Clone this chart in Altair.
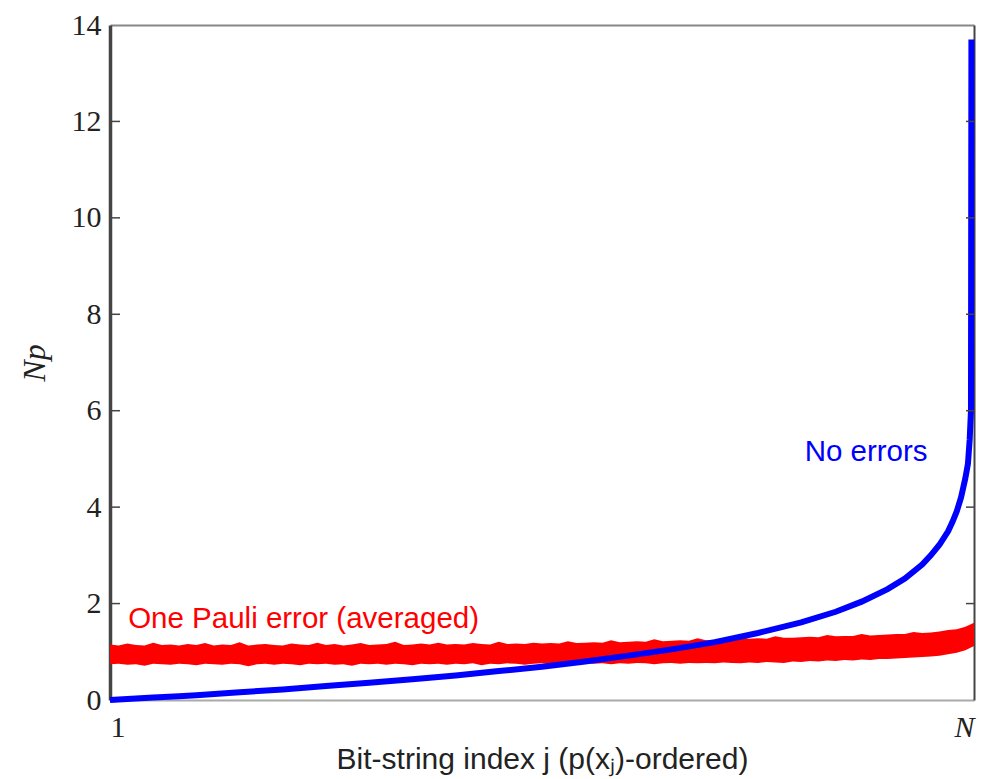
import altair as alt
import pandas as pd

# Sorted output probabilities (scaled by N) for the ideal circuit
blue_frac = [0, 0.02, 0.05, 0.08, 0.10, 0.15, 0.20, 0.25, 0.30, 0.35, 0.40, 0.45,
             0.50, 0.55, 0.60, 0.65, 0.70, 0.75, 0.80, 0.84, 0.87, 0.90, 0.92,
             0.94, 0.95, 0.96, 0.97, 0.975, 0.98, 0.985, 0.99, 0.993, 0.995,
             0.9965, 0.997]
blue_np = [0, 0.02, 0.05, 0.08, 0.10, 0.16, 0.22, 0.29, 0.36, 0.43, 0.51, 0.60,
           0.69, 0.80, 0.92, 1.05, 1.20, 1.39, 1.61, 1.83, 2.04, 2.30, 2.52,
           2.81, 3.00, 3.22, 3.50, 3.69, 3.91, 4.20, 4.60, 4.90, 5.40,
           6.00, 13.70]

# Envelope of the noisy curve with one Pauli error (averaged), sampled every 1% of N
band_hi = [1.15, 1.13, 1.17, 1.14, 1.13, 1.19, 1.14, 1.15, 1.13, 1.16,
           1.14, 1.18, 1.13, 1.15, 1.14, 1.20, 1.13, 1.15, 1.16, 1.14,
           1.13, 1.17, 1.15, 1.14, 1.19, 1.14, 1.16, 1.13, 1.15, 1.18,
           1.14, 1.15, 1.16, 1.21, 1.14, 1.15, 1.17, 1.15, 1.19, 1.15,
           1.16, 1.15, 1.18, 1.16, 1.15, 1.21, 1.16, 1.17, 1.16, 1.19,
           1.17, 1.18, 1.17, 1.22, 1.18, 1.19, 1.20, 1.19, 1.24, 1.20,
           1.21, 1.22, 1.21, 1.26, 1.22, 1.23, 1.24, 1.23, 1.28, 1.24,
           1.25, 1.26, 1.25, 1.30, 1.27, 1.28, 1.27, 1.32, 1.29, 1.29,
           1.30, 1.31, 1.30, 1.35, 1.32, 1.33, 1.33, 1.37, 1.34, 1.35,
           1.36, 1.37, 1.37, 1.41, 1.39, 1.40, 1.42, 1.45, 1.47, 1.52,
           1.60]
band_lo = [0.74, 0.75, 0.73, 0.74, 0.71, 0.75, 0.74, 0.73, 0.75, 0.74,
           0.72, 0.75, 0.74, 0.73, 0.75, 0.74, 0.70, 0.74, 0.75, 0.73,
           0.75, 0.74, 0.72, 0.75, 0.74, 0.75, 0.73, 0.74, 0.71, 0.75,
           0.74, 0.75, 0.73, 0.75, 0.74, 0.72, 0.75, 0.74, 0.75, 0.73,
           0.75, 0.74, 0.76, 0.72, 0.75, 0.74, 0.76, 0.75, 0.73, 0.75,
           0.76, 0.74, 0.75, 0.76, 0.73, 0.76, 0.75, 0.76, 0.74, 0.76,
           0.75, 0.77, 0.76, 0.74, 0.76, 0.77, 0.75, 0.77, 0.76, 0.77,
           0.76, 0.78, 0.77, 0.76, 0.78, 0.77, 0.79, 0.78, 0.77, 0.80,
           0.79, 0.81, 0.80, 0.82, 0.81, 0.83, 0.82, 0.84, 0.83, 0.85,
           0.85, 0.86, 0.87, 0.88, 0.89, 0.90, 0.92, 0.95, 0.98, 1.03,
           1.12]
band_frac = [i / 100 for i in range(len(band_hi))]

y_ticks = [0, 2, 4, 6, 8, 10, 12, 14]
inner_ticks = [2, 4, 6, 8, 10, 12]

labels = pd.DataFrame({
    "f": [0.021, 0.804],
    "y": [1.5, 4.96],
    "text": ["One Pauli error (averaged)", "No errors"],
    "color": ["#ff0000", "#0000ff"],
})

blue_df = pd.DataFrame({"f": blue_frac, "np": blue_np})
band_df = pd.DataFrame({"f": band_frac, "lo": band_lo, "hi": band_hi})
tick_df = pd.DataFrame({"v": inner_ticks})

W, H = 864, 675
xs = alt.Scale(domain=[0, 1], nice=False, zero=False)
ys = alt.Scale(domain=[0, 14], nice=False, zero=False)

SERIF = "Liberation Serif"
SANS = "Liberation Sans"

x_bottom = alt.Axis(
    values=[0, 1], labelExpr="datum.value == 0 ? '1' : 'N'",
    labelFontStyle=alt.condition("datum.value == 1", alt.value("italic"), alt.value("normal")),
    labelFont=SERIF, labelFontSize=30, labelColor="#222", labelPadding=12,
    ticks=False, grid=False, domainColor="#aaaaaa", domainWidth=2,
    title="Bit-string index j (p(xⱼ)-ordered)", titleFont=SANS, titleFontSize=30,
    titleFontWeight="normal", titleColor="#222", titlePadding=2,
)
y_left = alt.Axis(
    values=y_ticks, labelFont=SERIF, labelFontSize=30, labelColor="#222",
    labelPadding=9, ticks=False, grid=False, domainColor="#444444", domainWidth=3.5,
    title="Np", titleFont=SERIF, titleFontStyle="italic", titleFontSize=32,
    titleFontWeight="normal", titleColor="#222", titlePadding=20,
)
x_top = alt.Axis(orient="top", labels=False, ticks=False, grid=False,
                 domainColor="#888888", domainWidth=2, title=None)
y_right = alt.Axis(orient="right", labels=False, ticks=False, grid=False,
                   domainColor="#444444", domainWidth=2, title=None)

band = alt.Chart(band_df).mark_area(color="#ff0000", opacity=1).encode(
    x=alt.X("f:Q", scale=xs, axis=x_bottom),
    y=alt.Y("lo:Q", scale=ys, axis=y_left),
    y2="hi:Q",
)

blue = alt.Chart(blue_df).mark_line(color="#0000ff", strokeWidth=6).encode(
    x=alt.X("f:Q", scale=xs, axis=x_top),
    y=alt.Y("np:Q", scale=ys, axis=y_right),
)

ticks_l = alt.Chart(tick_df).mark_rule(color="#444444", strokeWidth=1.5).encode(
    y=alt.Y("v:Q", scale=ys, axis=None), x=alt.value(0), x2=alt.value(10)
)
ticks_r = alt.Chart(tick_df).mark_rule(color="#444444", strokeWidth=1.5).encode(
    y=alt.Y("v:Q", scale=ys, axis=None), x=alt.value(W - 8), x2=alt.value(W)
)

text = alt.Chart(labels).mark_text(
    align="left", baseline="alphabetic", font=SANS, fontSize=29.5
).encode(
    x=alt.X("f:Q", scale=xs, axis=None),
    y=alt.Y("y:Q", scale=ys, axis=None),
    text="text:N",
    color=alt.Color("color:N", scale=None),
)

chart = alt.layer(band, blue, ticks_l, ticks_r, text).resolve_axis(
    x="independent", y="independent"
).properties(
    width=W, height=H,
    autosize=alt.AutoSizeParams(type="none"),
    padding={"left": 110, "top": 25, "right": 8, "bottom": 79},
    background="white",
).configure_view(stroke=None)

chart.save("out.html", embed_options={"renderer": "svg", "actions": False})
